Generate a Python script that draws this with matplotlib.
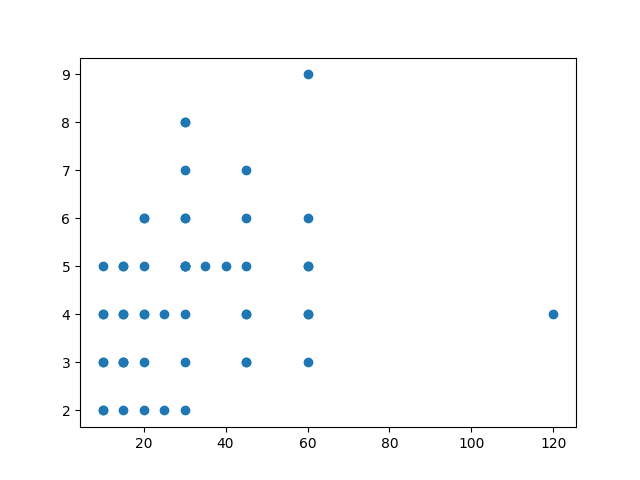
import matplotlib
matplotlib.use("Agg")
import matplotlib.pyplot as plt

# valeurs (x, y) - certains points sont répétés (marqueurs plus foncés)
x_vals = [10, 10, 10, 10, 10, 10, 10,
          15, 15, 15, 15, 15, 15, 15, 15,
          20, 20, 20, 20, 20, 20, 20,
          25, 25,
          30, 30, 30, 30, 30, 30, 30, 30, 30, 30, 30, 30,
          35, 40,
          45, 45, 45, 45, 45, 45, 45,
          60, 60, 60, 60, 60, 60, 60,
          120]
y_vals = [2, 3, 4, 5, 2, 3, 4,
          2, 3, 4, 5, 3, 4, 5, 3,
          2, 3, 4, 5, 6, 4, 6,
          2, 4,
          2, 3, 4, 5, 6, 7, 8, 5, 5, 6, 8, 5,
          5, 5,
          3, 4, 5, 6, 7, 3, 4,
          3, 4, 5, 6, 9, 4, 5,
          4]

fig, ax = plt.subplots(figsize=(6.4, 4.8), dpi=100)
ax.scatter(x_vals, y_vals)
fig.savefig("out.png")
